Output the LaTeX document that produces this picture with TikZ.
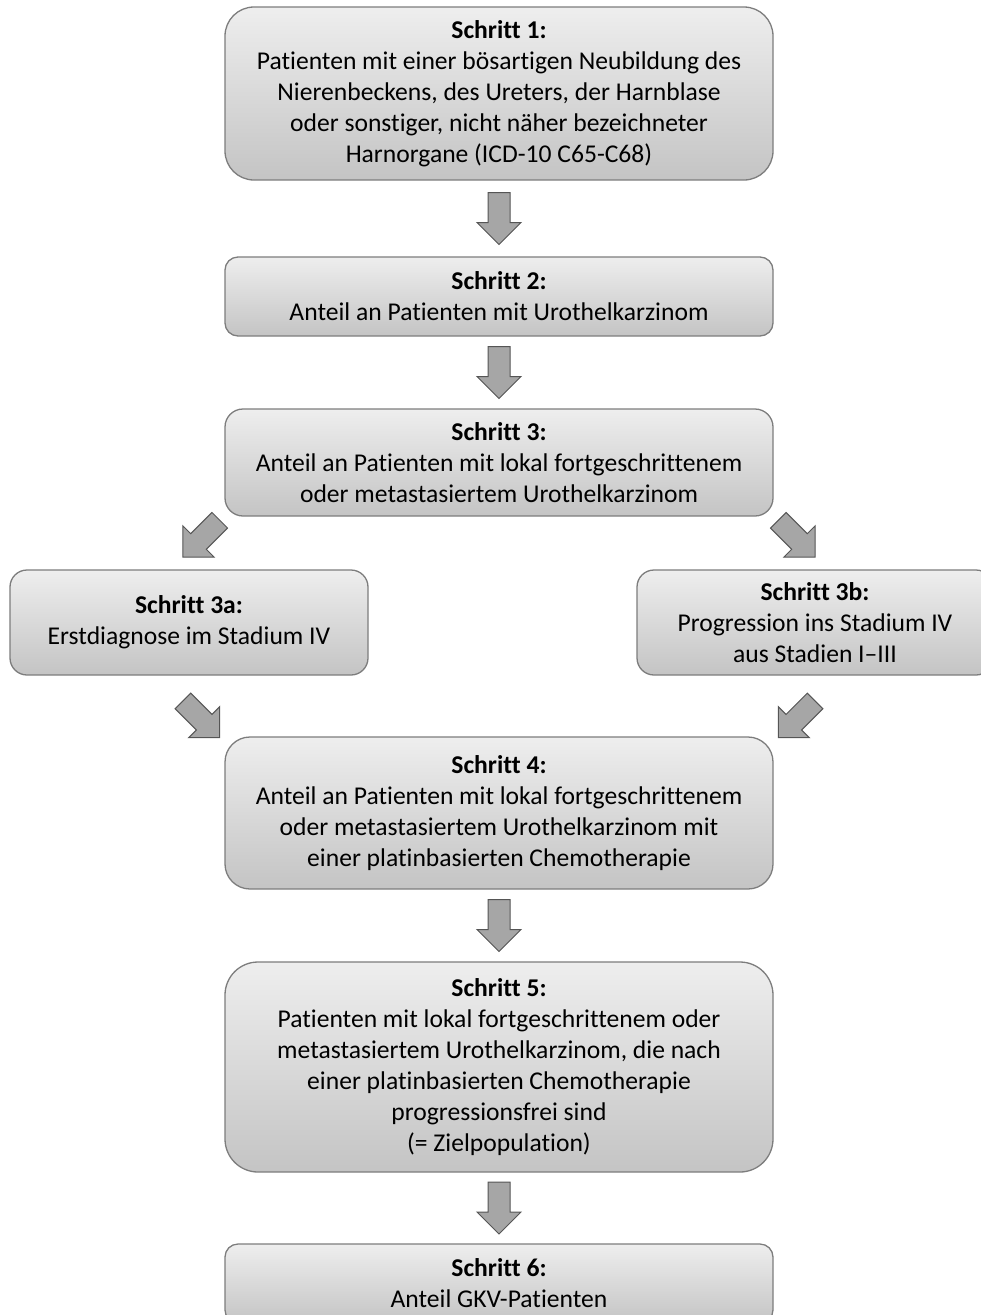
\documentclass[tikz,border=0pt]{standalone}
\usepackage{fontspec}
\setmainfont{Carlito}[Ligatures={NoCommon}]
\usetikzlibrary{calc}
\definecolor{boxtop}{RGB}{238,238,238}
\definecolor{boxbot}{RGB}{196,196,196}
\definecolor{boxline}{RGB}{125,125,125}
\definecolor{arrfill}{RGB}{166,166,166}
\definecolor{arrline}{RGB}{85,85,85}
\tikzset{
  stepbox/.style={draw=boxline, line width=1.3pt, top color=boxtop, bottom color=boxbot,
    align=center, font=\fontsize{25.6}{31}\selectfont, text=black, inner sep=0pt},
  pics/blockarrow/.style={code={
    \draw[fill=arrfill, draw=arrline, line width=1pt, line join=miter]
      (-11,-26) -- (11,-26) -- (11,4) -- (22,4) -- (0,26) -- (-22,4) -- (-11,4) -- cycle;}}
}
\begin{document}
\begin{tikzpicture}[x=1pt,y=-1pt]
\useasboundingbox (0,0) rectangle (981,1315);
\node[stepbox, minimum width=548, minimum height=173, rounded corners=29] (b1) at (499,93.5)
  {\textbf{Schritt 1:}\\Patienten mit einer bösartigen Neubildung des\\Nierenbeckens, des Ureters, der Harnblase\\oder sonstiger, nicht näher bezeichneter\\Harnorgane (ICD-10 C65-C68)};
\node[stepbox, minimum width=548, minimum height=79, rounded corners=13] (b2) at (499,296.5)
  {\textbf{Schritt 2:}\\Anteil an Patienten mit Urothelkarzinom};
\node[stepbox, minimum width=548, minimum height=107, rounded corners=18] (b3) at (499,462.5)
  {\textbf{Schritt 3:}\\Anteil an Patienten mit lokal fortgeschrittenem\\oder metastasiertem Urothelkarzinom};
\node[stepbox, minimum width=358, minimum height=105, rounded corners=17] (b3a) at (189,622.5)
  {\textbf{Schritt 3a:}\\Erstdiagnose im Stadium IV};
\node[stepbox, minimum width=356, minimum height=105, rounded corners=17] (b3b) at (815,622.5)
  {\textbf{Schritt 3b:}\\Progression ins Stadium IV\\aus Stadien I–III};
\node[stepbox, minimum width=548, minimum height=152, rounded corners=25] (b4) at (499,813)
  {\textbf{Schritt 4:}\\Anteil an Patienten mit lokal fortgeschrittenem\\oder metastasiertem Urothelkarzinom mit\\einer platinbasierten Chemotherapie};
\node[stepbox, minimum width=548, minimum height=210, rounded corners=33] (b5) at (499,1067)
  {\textbf{Schritt 5:}\\Patienten mit lokal fortgeschrittenem oder\\metastasiertem Urothelkarzinom, die nach\\einer platinbasierten Chemotherapie\\progressionsfrei sind\\(= Zielpopulation)};
\node[stepbox, minimum width=548, minimum height=79, rounded corners=13] (b6) at (499,1283.5)
  {\textbf{Schritt 6:}\\Anteil GKV-Patienten};
% connectors
\pic at ($(b1.south)!0.5!(b2.north)$) {blockarrow};
\pic at ($(b2.south)!0.5!(b3.north)$) {blockarrow};
\pic[rotate=-45] at ($(b3.south west)+(-23,22)$) {blockarrow};
\pic[rotate=45] at ($(b3.south east)+(23,22)$) {blockarrow};
\pic[rotate=45] at ($(b4.north west)+(-23,-17)$) {blockarrow};
\pic[rotate=-45] at ($(b4.north east)+(23,-17)$) {blockarrow};
\pic at ($(b4.south)!0.5!(b5.north)$) {blockarrow};
\pic at ($(b5.south)!0.5!(b6.north)$) {blockarrow};
\end{tikzpicture}
\end{document}
